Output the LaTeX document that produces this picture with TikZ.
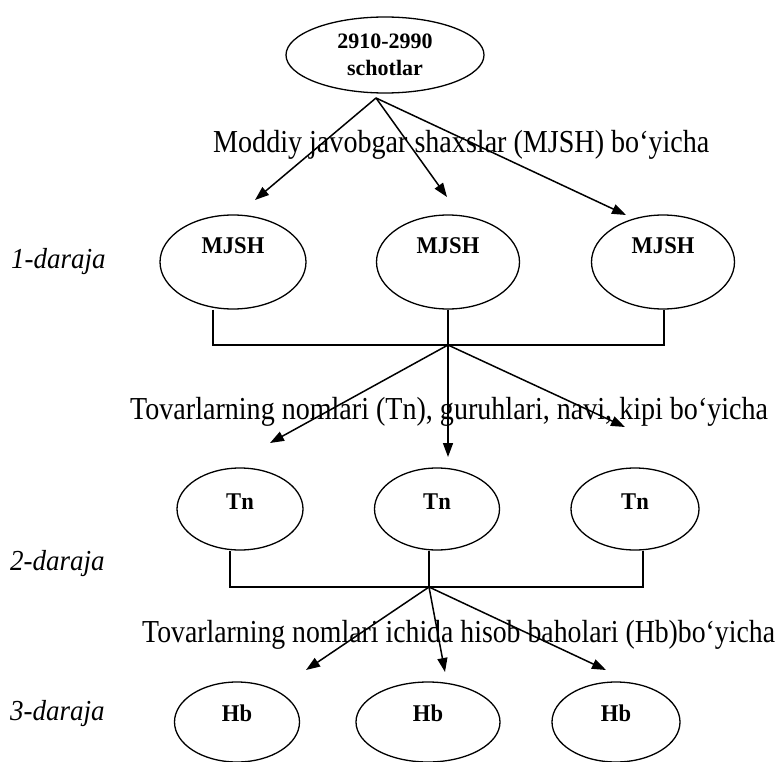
\documentclass[tikz,border=0pt]{standalone}
\usepackage{fontspec}
\setmainfont{Liberation Serif}
\newfontfamily\capA[FakeStretch=0.878]{Liberation Serif}
\newfontfamily\capB[FakeStretch=0.877]{Liberation Serif}
\newfontfamily\capC[FakeStretch=0.868]{Liberation Serif}
\newfontfamily\lblfont[FakeStretch=0.94]{Liberation Serif}
\newfontfamily\lvlfont[FakeStretch=0.93]{Liberation Serif}
\usetikzlibrary{shapes.geometric,arrows.meta}
\begin{document}
\begin{tikzpicture}[x=1pt,y=-1pt,
  oval/.style={draw, ellipse, line width=1.3pt, inner sep=0pt},
  lbl/.style={font=\lblfont\fontsize{24}{28}\selectfont\bfseries, inner sep=0pt},
  captxt/.style={inner sep=0pt, anchor=base west},
  lvl/.style={font=\lvlfont\fontsize{29}{32}\selectfont\itshape, inner sep=0pt, anchor=base west},
  conn/.style={line width=1.6pt},
  arr/.style={line width=1.5pt, -{Triangle[length=14pt,width=10pt]}}
]
\useasboundingbox (0,0) rectangle (776,762);

% top
\node[oval, minimum width=198pt, minimum height=76pt, align=center,
      font=\fontsize{22}{27}\selectfont\bfseries] (top) at (385,55) {2910-2990\\schotlar};
\coordinate (o1) at (376,98);

% level 1
\node[oval, minimum width=146pt, minimum height=94pt,
      label={[lbl, yshift=16pt]center:MJSH}] (m1) at (233,262) {};
\node[oval, minimum width=143pt, minimum height=94pt,
      label={[lbl, yshift=16pt]center:MJSH}] (m2) at (448,262) {};
\node[oval, minimum width=143pt, minimum height=94pt,
      label={[lbl, yshift=16pt]center:MJSH}] (m3) at (663,262) {};

% level 2
\node[oval, minimum width=126pt, minimum height=82pt,
      label={[lbl, yshift=7pt]center:Tn}] (n1) at (240,509) {};
\node[oval, minimum width=125pt, minimum height=82pt,
      label={[lbl, yshift=7pt]center:Tn}] (n2) at (437,509) {};
\node[oval, minimum width=128pt, minimum height=82pt,
      label={[lbl, yshift=7pt]center:Tn}] (n3) at (635,509) {};

% level 3
\node[oval, minimum width=125pt, minimum height=80pt,
      label={[lbl, yshift=9pt]center:Hb}] (h1) at (237,722) {};
\node[oval, minimum width=144pt, minimum height=80pt,
      label={[lbl, yshift=9pt]center:Hb}] (h2) at (428,722) {};
\node[oval, minimum width=128pt, minimum height=80pt,
      label={[lbl, yshift=9pt]center:Hb}] (h3) at (616,722) {};

% captions
\node[captxt, font=\capA\fontsize{32}{36}\selectfont] (c1) at (213,153) {Moddiy javobgar shaxslar (MJSH) bo‘yicha};
\node[captxt, font=\capB\fontsize{32}{36}\selectfont] (c2) at (130,419) {Tovarlarning nomlari (Tn), guruhlari, navi, kipi bo‘yicha};
\node[captxt, font=\capC\fontsize{32}{36}\selectfont] (c3) at (142,642) {Tovarlarning nomlari ichida hisob baholari (Hb)bo‘yicha};

% level labels
\node[lvl] (l1) at (11,268) {1-daraja};
\node[lvl] (l2) at (10,570) {2-daraja};
\node[lvl] (l3) at (10,720) {3-daraja};

% arrows top -> level 1
\coordinate (t1a) at (255,200);
\coordinate (t1b) at (447,197);
\coordinate (t1c) at (626,215);
\draw[arr] (o1) -- (t1a);
\draw[arr] (o1) -- (t1b);
\draw[arr] (o1) -- (t1c);

% level 1 bar
\coordinate (b1L) at (213,345);
\coordinate (b1C) at (448,345);
\coordinate (b1R) at (664,345);
\draw[conn] (b1L |- m1.south) -- (b1L) -- (b1R) -- (b1R |- m3.south);
\coordinate (t2a) at (270,443);
\coordinate (t2b) at (448,457);
\coordinate (t2c) at (625,427);
\draw[arr] (m2.south) -- (t2b);
\draw[arr] (b1C) -- (t2a);
\draw[arr] (b1C) -- (t2c);

% level 2 bar
\coordinate (b2L) at (230,587);
\coordinate (b2C) at (429,587);
\coordinate (b2R) at (643,587);
\draw[conn] (b2L |- n1.south) -- (b2L) -- (b2R) -- (b2R |- n3.south);
\draw[conn] (b2C |- n2.south) -- (b2C);
\coordinate (t3a) at (306,670);
\coordinate (t3b) at (445,672);
\coordinate (t3c) at (606,670);
\draw[arr] (b2C) -- (t3a);
\draw[arr] (b2C) -- (t3b);
\draw[arr] (b2C) -- (t3c);
\end{tikzpicture}
\end{document}
